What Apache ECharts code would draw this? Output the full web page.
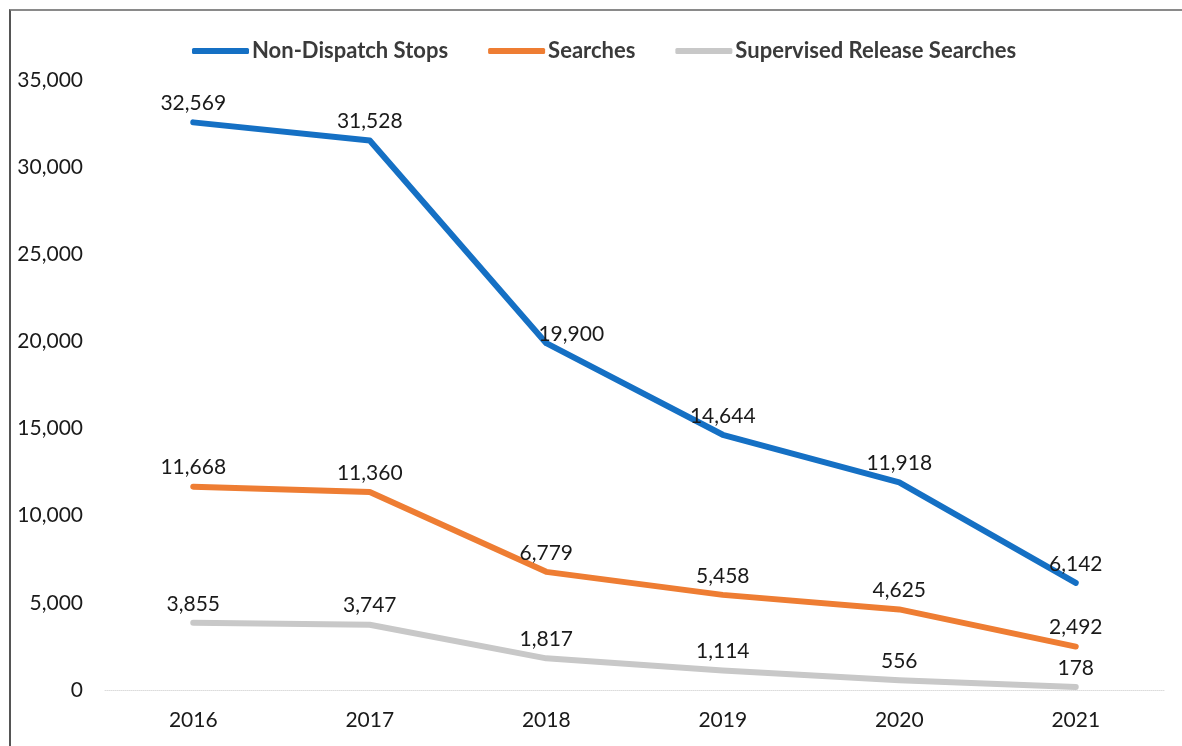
<!DOCTYPE html>
<html>
<head>
<meta charset="utf-8">
<script src="https://cdn.jsdelivr.net/npm/echarts@6/dist/echarts.min.js"></script>
<style>
  html, body { margin: 0; padding: 0; background: #fff; }
  #chart { position: absolute; left: 0; top: 0; width: 1182px; height: 746px; }
  #frame { position: absolute; left: 9px; top: 9px; right: 0; bottom: 0; border-top: 2px solid #8a8a8a; border-left: 2px solid #555; pointer-events: none; }
</style>
</head>
<body>
<div id="chart"></div>
<div id="frame"></div>
<script>
const years = ['2016', '2017', '2018', '2019', '2020', '2021'];
const nonDispatchStops = [32569, 31528, 19900, 14644, 11918, 6142];
const searches = [11668, 11360, 6779, 5458, 4625, 2492];
const supervisedReleaseSearches = [3855, 3747, 1817, 1114, 556, 178];
const yTicks = { min: 0, max: 35000, interval: 5000 };

// label placement tweaks (style only): series name -> { categoryIndex: [dx, dy] }
const labelNudges = { 'Non-Dispatch Stops': { 2: [25, 10] } };

const FONT = 'Lato';
const fmt = v => v.toLocaleString('en-US');

function lineSeries(name, values, color) {
  const nudges = labelNudges[name] || {};
  return {
    name: name,
    type: 'line',
    data: values.map((v, i) => nudges[i] ? { value: v, label: { offset: nudges[i] } } : v),
    symbol: 'circle',
    symbolSize: 1,
    showSymbol: true,
    lineStyle: { width: 6, color: color, cap: 'round', join: 'round' },
    itemStyle: { color: color },
    label: {
      show: true,
      position: 'top',
      distance: 8,
      fontFamily: FONT,
      fontSize: 21,
      color: '#1a1a1a',
      formatter: p => fmt(p.value)
    }
  };
}

const chart = echarts.init(document.getElementById('chart'), null, { renderer: 'canvas' });
chart.setOption({
  animation: false,
  backgroundColor: '#fff',
  textStyle: { fontFamily: FONT },
  legend: {
    top: 35,
    left: 187,
    itemWidth: 57,
    itemHeight: 6,
    itemGap: 40,
    icon: 'roundRect',
    textStyle: { fontFamily: FONT, fontSize: 22, fontWeight: 'bold', color: '#3a3a3a', padding: [0, 0, 0, -2] },
    data: ['Non-Dispatch Stops', 'Searches', 'Supervised Release Searches']
  },
  grid: { left: 105, right: 18, top: 80, bottom: 56, containLabel: false },
  xAxis: {
    type: 'category',
    data: years,
    boundaryGap: true,
    axisLine: { show: true, lineStyle: { color: '#dcdcdc', width: 1, type: 'dotted' } },
    axisTick: { show: false },
    axisLabel: { fontFamily: FONT, fontSize: 21, color: '#1a1a1a', margin: 20 }
  },
  yAxis: {
    type: 'value',
    min: yTicks.min,
    max: yTicks.max,
    interval: yTicks.interval,
    axisLine: { show: false },
    axisTick: { show: false },
    splitLine: { show: false },
    axisLabel: { fontFamily: FONT, fontSize: 21, color: '#1a1a1a', margin: 22, formatter: v => fmt(v) }
  },
  series: [
    lineSeries('Non-Dispatch Stops', nonDispatchStops, '#1570c4'),
    lineSeries('Searches', searches, '#ee7d33'),
    lineSeries('Supervised Release Searches', supervisedReleaseSearches, '#c8c8c8')
  ]
});
</script>
</body>
</html>
